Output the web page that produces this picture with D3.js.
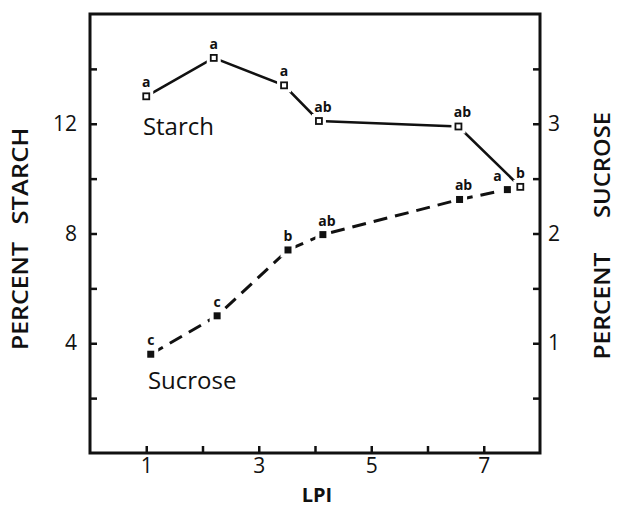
<!DOCTYPE html>
<html>
<head>
<meta charset="utf-8">
<script src="https://cdn.jsdelivr.net/npm/d3@7"></script>
<style>
  body { margin: 0; background: #fff; }
  svg { display: block; }
</style>
</head>
<body>
<div id="chart"></div>
<script>
// data
const starchLPI = [1.0, 2.2, 3.45, 4.07, 6.55, 7.65];
const starchPct = [13.0, 14.4, 13.4, 12.1, 11.9, 9.7];
const starchLetters = ["a", "a", "a", "ab", "ab", "b"];

const sucroseLPI = [1.08, 2.26, 3.52, 4.14, 6.57, 7.42];
const sucrosePct = [0.9, 1.25, 1.85, 1.99, 2.31, 2.4];
const sucroseLetters = ["c", "c", "b", "ab", "ab", "a"];

const xTicks = [1, 2, 3, 4, 5, 6, 7];
const xTickLabels = [1, 3, 5, 7];
const starchTicks = [2, 4, 6, 8, 10, 12, 14];
const starchTickLabels = [4, 8, 12];
const sucroseTicks = [0.5, 1, 1.5, 2, 2.5, 3, 3.5];
const sucroseTickLabels = [1, 2, 3];

const W = 617, H = 508;
const margin = { top: 14, right: 77, bottom: 55, left: 90 };
const width = W - margin.left - margin.right;
const height = H - margin.top - margin.bottom;
const font = "'Open Sans', 'DejaVu Sans', sans-serif";

const svg = d3.select("#chart").append("svg")
  .attr("width", W).attr("height", H)
  .style("font-family", font);

const g = svg.append("g")
  .attr("transform", `translate(${margin.left},${margin.top})`);

const x = d3.scaleLinear().domain([0, 8]).range([0, width]);
const yL = d3.scaleLinear().domain([0, 16]).range([height, 0]);
const yR = d3.scaleLinear().domain([0, 4]).range([height, 0]);

// axes, ticks pointing inward
const tickLen = 7;
const xAxis = d3.axisBottom(x).tickValues(xTicks).tickSizeInner(-tickLen).tickSizeOuter(0)
  .tickPadding(5).tickFormat(d => xTickLabels.includes(d) ? d : "");
const leftAxis = d3.axisLeft(yL).tickValues(starchTicks).tickSizeInner(-tickLen).tickSizeOuter(0)
  .tickPadding(13).tickFormat(d => starchTickLabels.includes(d) ? d : "");
const rightAxis = d3.axisRight(yR).tickValues(sucroseTicks).tickSizeInner(-tickLen).tickSizeOuter(0)
  .tickPadding(8).tickFormat(d => sucroseTickLabels.includes(d) ? d : "");

function styleAxis(sel) {
  sel.select(".domain").remove();
  sel.selectAll(".tick line").attr("stroke", "#111").attr("stroke-width", 2.5);
  sel.selectAll(".tick text").attr("fill", "#111")
    .style("font-family", font).style("font-size", "21px");
}

g.append("g").attr("transform", `translate(0,${height})`).call(xAxis).call(styleAxis);
g.append("g").call(leftAxis).call(styleAxis);
g.append("g").attr("transform", `translate(${width},0)`).call(rightAxis).call(styleAxis);

// frame
g.append("rect")
  .attr("x", 0).attr("y", 0).attr("width", width).attr("height", height)
  .attr("fill", "none").attr("stroke", "#111").attr("stroke-width", 3);

const starch = starchLPI.map((d, i) => ({ x: d, y: starchPct[i], t: starchLetters[i] }));
const sucrose = sucroseLPI.map((d, i) => ({ x: d, y: sucrosePct[i], t: sucroseLetters[i] }));

// starch solid, sucrose dashed
g.append("path").datum(starch)
  .attr("fill", "none").attr("stroke", "#111").attr("stroke-width", 2.6)
  .attr("d", d3.line().x(d => x(d.x)).y(d => yL(d.y)));

g.append("path").datum(sucrose)
  .attr("fill", "none").attr("stroke", "#111").attr("stroke-width", 3)
  .attr("stroke-dasharray", "14,8")
  .attr("d", d3.line().x(d => x(d.x)).y(d => yR(d.y)));

// markers with white halo so the lines stop short
function markers(data, yScale, filled) {
  const s = filled ? 7 : 6;
  const grp = g.append("g");
  grp.selectAll("rect.halo").data(data).join("rect")
    .attr("class", "halo")
    .attr("x", d => x(d.x) - s / 2 - 4).attr("y", d => yScale(d.y) - s / 2 - 4)
    .attr("width", s + 8).attr("height", s + 8).attr("fill", "#fff");
  grp.selectAll("rect.mk").data(data).join("rect")
    .attr("class", "mk")
    .attr("x", d => x(d.x) - s / 2).attr("y", d => yScale(d.y) - s / 2)
    .attr("width", s).attr("height", s)
    .attr("fill", filled ? "#111" : "#fff")
    .attr("stroke", "#111").attr("stroke-width", filled ? 0 : 1.8);
}
markers(starch, yL, false);
markers(sucrose, yR, true);

// significance letters
function letters(data, yScale, shift) {
  g.append("g").selectAll("text").data(data).join("text")
    .attr("x", (d, i) => x(d.x) + (d.t.length > 1 ? 4 : 0) + shift[i])
    .attr("y", d => yScale(d.y) - 9)
    .attr("text-anchor", "middle")
    .attr("fill", "#111")
    .style("font-size", "14px").style("font-weight", "bold")
    .text(d => d.t);
}
letters(starch, yL, [0, 0, 0, 0, 0, 0]);
letters(sucrose, yR, [0, 0, 0, 0, 0, -10]);

// series labels
g.append("text").attr("x", x(0.94)).attr("y", yL(11.6))
  .attr("fill", "#111").style("font-size", "24px").text("Starch");
g.append("text").attr("x", x(1.03)).attr("y", yR(0.58))
  .attr("fill", "#111").style("font-size", "24px").text("Sucrose");

// axis titles
svg.append("text")
  .attr("x", 317).attr("y", 502)
  .attr("text-anchor", "middle").attr("fill", "#111")
  .style("font-size", "20px").style("font-weight", "bold")
  .text("LPI");

function vTitle(word, cx, cy, len) {
  svg.append("text")
    .attr("transform", `translate(${cx},${cy}) rotate(-90)`)
    .attr("text-anchor", "middle").attr("fill", "#111")
    .style("font-size", "21px").style("font-weight", "600")
    .attr("textLength", len).attr("lengthAdjust", "spacingAndGlyphs")
    .text(word);
}
vTitle("STARCH", 28, 176, 97);
vTitle("PERCENT", 28, 296, 108);
vTitle("SUCROSE", 610, 165, 106);
vTitle("PERCENT", 610, 306, 107);
</script>
</body>
</html>
